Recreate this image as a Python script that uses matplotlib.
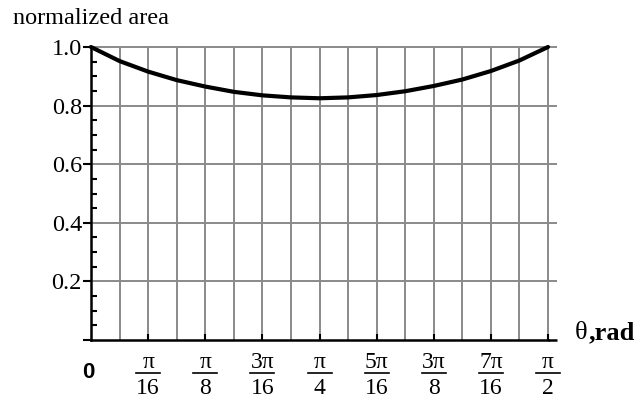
import numpy as np
import matplotlib
matplotlib.use("Agg")
import matplotlib.pyplot as plt
from matplotlib.ticker import MultipleLocator

# normalized area sampled every pi/32 over [0, pi/2]
theta_steps = list(range(17))  # multiples of pi/32
area = [1.000, 0.952, 0.916, 0.887, 0.865, 0.847, 0.835, 0.828, 0.825,
        0.828, 0.836, 0.849, 0.867, 0.889, 0.918, 0.954, 1.000]

y_ticks = [0.0, 0.2, 0.4, 0.6, 0.8, 1.0]
y_tick_labels = ["", "0.2", "0.4", "0.6", "0.8", "1.0"]

x_tick_num = ["π", "π", "3π", "π", "5π", "3π", "7π", "π"]
x_tick_den = ["16", "8", "16", "4", "16", "8", "16", "2"]

W, H = 642, 400
fig = plt.figure(figsize=(W / 100, H / 100), dpi=100)
serif = "Liberation Serif"

x0, x1, ytop, ybot = 91, 548, 47, 340
ax = fig.add_axes([x0 / W, (H - ybot) / H, (x1 - x0) / W, (ybot - ytop) / H])

theta = np.array(theta_steps) * np.pi / 32
xmax = np.pi / 2
ax.set_xlim(0, xmax)
ax.set_ylim(0, 1)

grid_c = "#8a8a8a"
ext = xmax * (557 - x0) / (x1 - x0)

# vertical grid every pi/32
for k in range(1, 17):
    ax.plot([k * np.pi / 32] * 2, [0, 1], color=grid_c, lw=1.4, zorder=1,
            clip_on=False, solid_capstyle="butt")
# horizontal grid at labelled ticks, running a little past the right edge
for yv in y_ticks[1:]:
    ax.plot([0, ext], [yv, yv], color=grid_c, lw=1.4, zorder=1,
            clip_on=False, solid_capstyle="butt")

# curve
ax.plot(theta, area, color="black", lw=3.0, zorder=3, clip_on=False,
        solid_capstyle="round", solid_joinstyle="round")

# spines
for s in ("top", "right"):
    ax.spines[s].set_visible(False)
for s in ("left", "bottom"):
    ax.spines[s].set_linewidth(1.8)
    ax.spines[s].set_zorder(4)
ax.plot([xmax, ext], [0, 0], color="black", lw=1.8, clip_on=False,
        zorder=4, solid_capstyle="butt")

# y ticks
ax.set_yticks(y_ticks)
ax.set_yticklabels(y_tick_labels, fontfamily=serif, fontsize=17.5)
ax.yaxis.set_minor_locator(MultipleLocator(0.05))
ax.tick_params(axis="y", which="major", direction="out", length=6,
               width=1.5, pad=0.5)
ax.tick_params(axis="y", which="minor", direction="in", length=4, width=1.5)

# x ticks: small inward marks, labels drawn as stacked fractions
ax.set_xticks([k * np.pi / 16 for k in range(1, 9)])
ax.set_xticklabels([])
ax.tick_params(axis="x", which="major", direction="in", length=4, width=1.5)

trans = ax.get_xaxis_transform()
axh = ybot - ytop
half = xmax * 12 / (x1 - x0)
for k, (num, den) in enumerate(zip(x_tick_num, x_tick_den), start=1):
    xc = k * np.pi / 16
    ax.text(xc, (ybot - 362) / axh, num, transform=trans, ha="center",
            va="center", fontfamily=serif, fontsize=17)
    ax.plot([xc - half, xc + half], [(ybot - 373) / axh] * 2,
            transform=trans, color="black", lw=1.2, clip_on=False)
    ax.text(xc, (ybot - 388) / axh, den, transform=trans, ha="center",
            va="center", fontfamily=serif, fontsize=17)

fig.text(88 / W, 1 - 372 / H, "0", ha="center", va="center",
         fontfamily="Liberation Sans", fontweight="bold", fontsize=16)

fig.text(13 / W, 1 - 18 / H, "normalized area", ha="left", va="center",
         fontfamily=serif, fontsize=17.5)
fig.text(575 / W, 1 - 333 / H, "θ", ha="left", va="center",
         fontfamily=serif, fontsize=19)
fig.text(589 / W, 1 - 333 / H, ",rad", ha="left", va="center",
         fontfamily=serif, fontweight="bold", fontsize=19)

fig.savefig("out.png", dpi=100)
